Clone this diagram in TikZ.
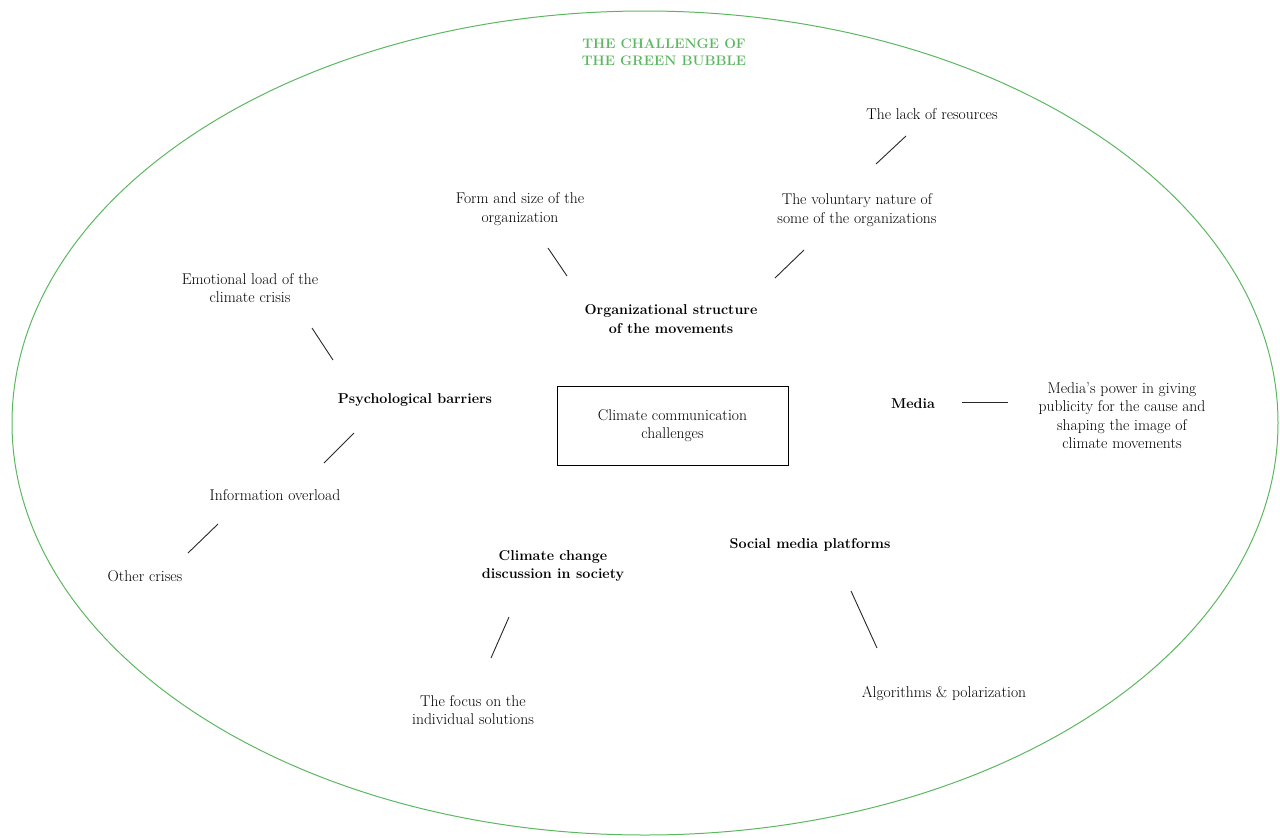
\documentclass[tikz,border=0pt]{standalone}
\usepackage{xcolor}
\definecolor{bubblegreen}{RGB}{92,184,96}
\definecolor{linegray}{RGB}{40,40,40}
\begin{document}
\begin{tikzpicture}[x=1pt,y=-1pt,
  txt/.style={align=center,font=\fontsize{15.6}{18.5}\selectfont,inner sep=0pt},
  head/.style={txt,font=\fontsize{14.3}{18.5}\selectfont\bfseries},
  title/.style={align=center,font=\fontsize{13.8}{17}\selectfont\bfseries,text=bubblegreen,inner sep=0pt},
  link/.style={draw=linegray,line width=0.9pt},
  centerbox/.style={draw=black,line width=1pt,minimum width=231pt,minimum height=79pt,txt}]
\useasboundingbox (0,0) rectangle (1280,838);
\draw[bubblegreen,line width=1pt] (645,423) ellipse [x radius=633, y radius=412];
\node[title] (t) at (664,52) {THE CHALLENGE OF\\THE GREEN BUBBLE};

\node[centerbox] (c) at (672.5,425.5) {Climate communication\\challenges};

\node[txt] (lack) at (932,114) {The lack of resources};
\node[txt] (vol) at (857,210) {The voluntary nature of\\some of the organizations};
\node[txt] (form) at (520,209) {Form and size of the\\organization};
\node[head] (org) at (671,319) {Organizational structure\\of the movements};
\node[txt] (emo) at (250,288) {Emotional load of the\\climate crisis};
\node[head] (psy) at (415,400) {Psychological barriers};
\node[txt] (info) at (275,495) {Information overload};
\node[txt] (oth) at (145,576) {Other crises};
\node[head] (med) at (913,404) {Media};
\node[txt] (medp) at (1122,415.5) {Media's power in giving\\publicity for the cause and\\shaping the image of\\climate movements};
\node[head] (soc) at (810,545) {Social media platforms};
\node[txt] (alg) at (944,694) {Algorithms \& polarization};
\node[head] (cc) at (553,566) {Climate change\\discussion in society};
\node[txt] (foc) at (473,710) {The focus on the\\individual solutions};

\coordinate (lackA) at (906,136); \coordinate (lackB) at (876,164);
\coordinate (volA) at (804,250); \coordinate (volB) at (775,278);
\coordinate (formA) at (548,248); \coordinate (formB) at (567,276);
\coordinate (emoA) at (312,328); \coordinate (emoB) at (333,360);
\coordinate (infoA) at (354,433); \coordinate (infoB) at (324,463);
\coordinate (othA) at (218,524); \coordinate (othB) at (188,553);
\coordinate (medA) at (962,402); \coordinate (medB) at (1008,402);
\coordinate (algA) at (851,591); \coordinate (algB) at (877,648);
\coordinate (focA) at (509,617); \coordinate (focB) at (491,658);

\draw[link] (lackA) -- (lackB);
\draw[link] (volA) -- (volB);
\draw[link] (formA) -- (formB);
\draw[link] (emoA) -- (emoB);
\draw[link] (infoA) -- (infoB);
\draw[link] (othA) -- (othB);
\draw[link] (medA) -- (medB);
\draw[link] (algA) -- (algB);
\draw[link] (focA) -- (focB);
\end{tikzpicture}
\end{document}
